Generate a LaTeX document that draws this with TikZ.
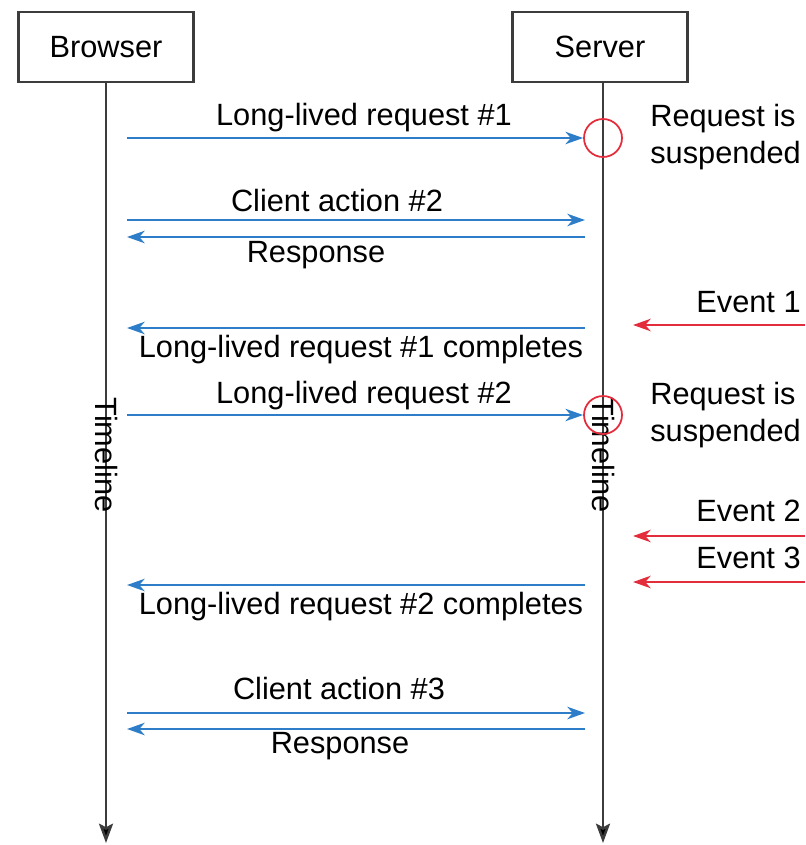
\documentclass[tikz,border=0pt]{standalone}
\usepackage{fontspec}
\setmainfont{Liberation Sans}
\usetikzlibrary{positioning,arrows.meta}

\definecolor{msgblue}{RGB}{45,125,200}
\definecolor{evred}{RGB}{228,45,60}
\definecolor{lifegray}{RGB}{60,60,60}

\begin{document}
\begin{tikzpicture}[
  x=0.02cm, y=-0.02cm,
  font=\fontsize{17.5}{21}\selectfont,
  actor/.style={draw=lifegray, line width=1.3pt, minimum width=3.5cm, minimum height=1.4cm},
  life/.style={draw=lifegray, line width=1.4pt, -{Stealth[length=11pt,width=8pt,inset=2pt,fill=black]}},
  msg/.style={draw=msgblue, line width=1.6pt, -{Stealth[length=10pt,width=7pt,inset=3pt]}},
  event/.style={draw=evred, line width=1.6pt, -{Stealth[length=10pt,width=7pt,inset=3pt]}},
  hold/.style={draw=evred, line width=1pt, circle, minimum size=0.76cm, inner sep=0pt},
  lbl/.style={inner sep=0pt},
  note/.style={inner sep=0pt, align=left, anchor=west},
  evlbl/.style={inner sep=0pt, anchor=east},
  tline/.style={inner sep=0pt, rotate=-90}
]
\useasboundingbox (0,0) rectangle (805,845);

% participants
\node[actor] (browser) at (106,47) {Browser};
\node[actor] (server) at (600,47) {Server};
\coordinate (bend) at (106,843);
\coordinate (send) at (603,843);
\draw[life] (browser.south -| bend) -- (bend);
\draw[life] (server.south -| send) -- (send);
\node[tline] (btime) at (106,455) {Timeline};
\node[tline] (stime) at (603,455) {Timeline};

% request 1 is held
\coordinate (b1) at (127,138);
\node[hold] (h1) at (603,138) {};
\draw[msg] (b1) -- (h1.west);
\node[lbl] (l1) at (364,118) {Long-lived request \#1};
\node[note] (n1) at (650,137) {Request is\\suspended};

% client action 2
\coordinate (b2) at (127,220);
\coordinate (s2) at (585,220);
\coordinate (b3) at (127,237);
\coordinate (s3) at (585,237);
\draw[msg] (b2) -- (s2);
\draw[msg] (s3) -- (b3);
\node[lbl] (l2) at (337,201) {Client action \#2};
\node[lbl] (l3) at (316,255) {Response};

% event 1 ends request 1
\coordinate (e1a) at (805,325);
\coordinate (e1b) at (633,325);
\draw[event] (e1a) -- (e1b);
\node[evlbl] (ev1) at (801,302) {Event 1};
\coordinate (s4) at (585,328);
\coordinate (b4) at (127,328);
\draw[msg] (s4) -- (b4);
\node[lbl] (l4) at (361,350) {Long-lived request \#1 completes};

% request 2 is held
\coordinate (b5) at (127,415);
\node[hold] (h2) at (603,415) {};
\draw[msg] (b5) -- (h2.west);
\node[lbl] (l5) at (364,396) {Long-lived request \#2};
\node[note] (n2) at (650,415) {Request is\\suspended};

% events 2 and 3
\coordinate (e2a) at (805,536);
\coordinate (e2b) at (633,536);
\draw[event] (e2a) -- (e2b);
\node[evlbl] (ev2) at (801,511) {Event 2};
\coordinate (e3a) at (805,582);
\coordinate (e3b) at (633,582);
\draw[event] (e3a) -- (e3b);
\node[evlbl] (ev3) at (801,558) {Event 3};
\coordinate (s6) at (585,585);
\coordinate (b6) at (127,585);
\draw[msg] (s6) -- (b6);
\node[lbl] (l6) at (361,607) {Long-lived request \#2 completes};

% client action 3
\coordinate (b7) at (127,713);
\coordinate (s7) at (585,713);
\coordinate (b8) at (127,729);
\coordinate (s8) at (585,729);
\draw[msg] (b7) -- (s7);
\draw[msg] (s8) -- (b8);
\node[lbl] (l7) at (339,689) {Client action \#3};
\node[lbl] (l8) at (340,746) {Response};
\end{tikzpicture}
\end{document}
